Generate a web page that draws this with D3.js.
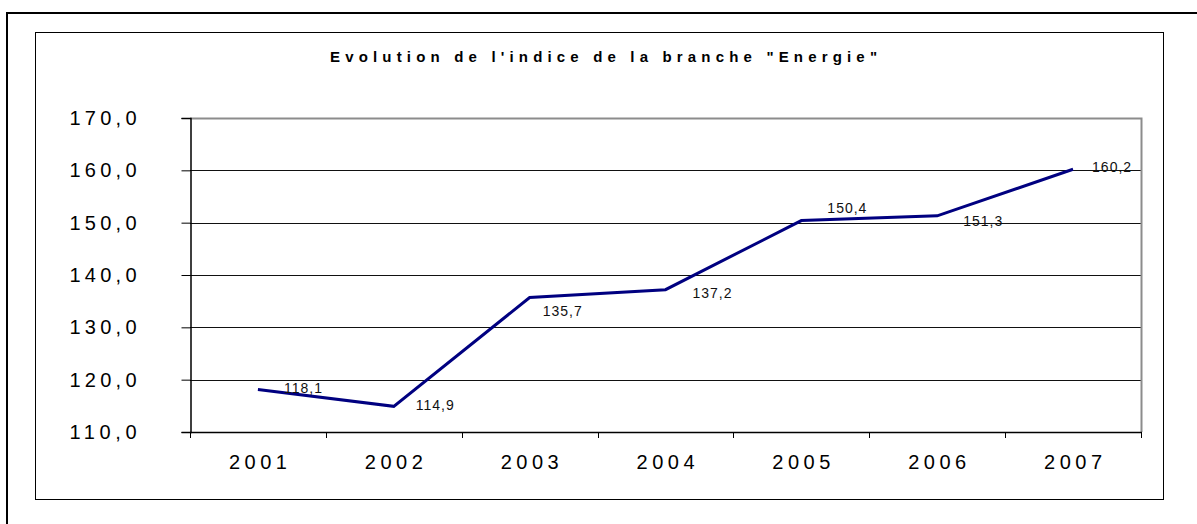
<!DOCTYPE html>
<html>
<head>
<meta charset="utf-8">
<script src="https://cdn.jsdelivr.net/npm/d3@7"></script>
<style>
  body { margin: 0; background: #fff; }
  svg { display: block; font-family: "Liberation Sans", Arial, sans-serif; }
</style>
</head>
<body>
<svg id="chart" width="1197" height="524"></svg>
<script>
// chart data
var years = ["2001", "2002", "2003", "2004", "2005", "2006", "2007"];
var values = [118.1, 114.9, 135.7, 137.2, 150.4, 151.3, 160.2];
var yTicks = [110, 120, 130, 140, 150, 160, 170];
var title = "Evolution de l'indice de la branche \"Energie\"";

var svg = d3.select("#chart");
var fmt = function(d) { return d.toFixed(1).replace(".", ","); };

// plot area (note: "top" is taken by window.top, so prefix everything)
var plotLeft = 190, plotRight = 1141, plotTop = 118, plotBottom = 432;

var x = d3.scaleBand().domain(years).range([plotLeft, plotRight]);
var y = d3.scaleLinear().domain([110, 170]).range([plotBottom, plotTop]);

// outer frame (only top + left visible)
svg.append("rect")
  .attr("x", 7).attr("y", 13).attr("width", 1300).attr("height", 600)
  .attr("fill", "none").attr("stroke", "#000").attr("stroke-width", 2);

// inner chart frame
svg.append("rect")
  .attr("x", 35.5).attr("y", 32.5).attr("width", 1128).attr("height", 467)
  .attr("fill", "#fff").attr("stroke", "#000").attr("stroke-width", 1);

// title
svg.append("text")
  .attr("x", 330).attr("y", 62)
  .attr("textLength", 547).attr("lengthAdjust", "spacing")
  .style("font-size", "15px").style("font-weight", "bold")
  .text(title);

// gridlines
svg.append("g")
  .selectAll("line")
  .data(yTicks.filter(function(d) { return d > 110 && d < 170; }))
  .join("line")
  .attr("x1", plotLeft).attr("x2", plotRight)
  .attr("y1", function(d) { return Math.round(y(d)) + 0.5; })
  .attr("y2", function(d) { return Math.round(y(d)) + 0.5; })
  .attr("stroke", "#111").attr("stroke-width", 1);

// top and right border of the plot area (grey)
svg.append("path")
  .attr("d", "M" + plotLeft + "," + (plotTop + 0.5) + "H" + (plotRight + 0.5) + "V" + plotBottom)
  .attr("fill", "none").attr("stroke", "#8c8c8c").attr("stroke-width", 2);

// y axis
var yAxis = svg.append("g")
  .attr("transform", "translate(" + (plotLeft + 0.5) + ",0)")
  .call(d3.axisLeft(y).tickValues(yTicks).tickSize(9).tickPadding(45).tickFormat(fmt));
yAxis.select(".domain").attr("stroke", "#000").attr("stroke-width", 1.5);
yAxis.selectAll(".tick line").attr("stroke", "#000");
yAxis.selectAll(".tick text")
  .attr("textLength", 67).attr("lengthAdjust", "spacing")
  .attr("fill", "#000")
  .style("font-size", "20px").style("font-family", "'Liberation Sans', Arial, sans-serif");

// x axis line + boundary ticks
svg.append("line")
  .attr("x1", plotLeft).attr("x2", plotRight + 1)
  .attr("y1", plotBottom + 0.5).attr("y2", plotBottom + 0.5)
  .attr("stroke", "#000").attr("stroke-width", 1.5);

var bounds = years.map(function(d) { return x(d); }).concat([x.range()[1]]);
svg.append("g")
  .selectAll("line")
  .data(bounds)
  .join("line")
  .attr("x1", function(d) { return Math.round(d) + 0.5; })
  .attr("x2", function(d) { return Math.round(d) + 0.5; })
  .attr("y1", plotBottom).attr("y2", plotBottom + 6)
  .attr("stroke", "#000");

// x labels
svg.append("g")
  .selectAll("text")
  .data(years)
  .join("text")
  .attr("x", function(d) { return x(d) + x.bandwidth() / 2; })
  .attr("y", 469)
  .attr("text-anchor", "middle")
  .attr("textLength", 58).attr("lengthAdjust", "spacing")
  .style("font-size", "20px")
  .text(function(d) { return d; });

// the line
var line = d3.line()
  .x(function(d, i) { return x(years[i]) + x.bandwidth() / 2; })
  .y(function(d) { return y(d); });

svg.append("path")
  .datum(values)
  .attr("d", line)
  .attr("fill", "none")
  .attr("stroke", "#000080")
  .attr("stroke-width", 3)
  .attr("stroke-linejoin", "miter");

// data labels, nudged like in the original sheet
var labelNudge = [[26, -2], [22, -1], [13, 13], [27, 3], [26, -13], [26, 5], [19, -2]];
svg.append("g")
  .selectAll("text")
  .data(values)
  .join("text")
  .attr("x", function(d, i) { return x(years[i]) + x.bandwidth() / 2 + labelNudge[i][0]; })
  .attr("y", function(d, i) { return y(d) + labelNudge[i][1] + 5; })
  .style("font-size", "14px")
  .style("letter-spacing", "1px")
  .attr("fill", "#111")
  .text(fmt);
</script>
</body>
</html>
